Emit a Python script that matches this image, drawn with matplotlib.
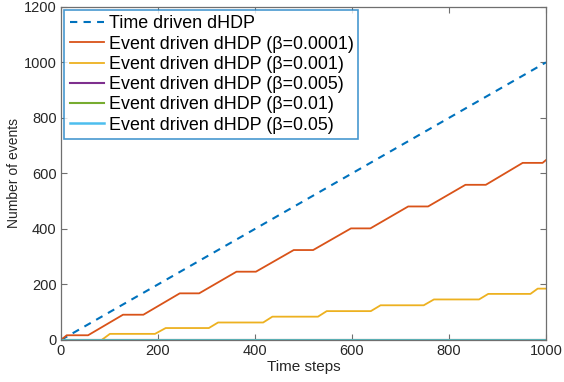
import matplotlib
matplotlib.use("Agg")
import matplotlib.pyplot as plt

plt.rcParams['font.family'] = ['Liberation Sans', 'DejaVu Sans']

# Data
time_x = [0, 1000]
time_y = [0, 1000]

b0001_x = [0, 12, 56, 128, 170, 245, 285, 362, 402, 480, 520, 598, 638, 716, 757, 834, 876, 952, 993, 1000]
b0001_y = [0, 17, 17, 91, 91, 168, 168, 246, 246, 324, 324, 402, 402, 481, 481, 559, 559, 638, 638, 648]

b001_x = [0, 84, 101, 194, 216, 305, 324, 417, 436, 530, 548, 639, 659, 748, 769, 862, 881, 968, 983, 1000]
b001_y = [0, 0, 22, 22, 43, 43, 63, 63, 84, 84, 104, 104, 125, 125, 146, 146, 166, 166, 185, 185]

flat_x = [0, 1000]
b005_y = [0, 0]
b01_y = [0, 0]
b05_y = [0, 0]

labels = ['Time driven dHDP',
          'Event driven dHDP (β=0.0001)',
          'Event driven dHDP (β=0.001)',
          'Event driven dHDP (β=0.005)',
          'Event driven dHDP (β=0.01)',
          'Event driven dHDP (β=0.05)']
colors = ['#0072BD', '#D95319', '#EDB120', '#7E2F8E', '#77AC30', '#4DBEEE']

xticks = [0, 200, 400, 600, 800, 1000]
yticks = [0, 200, 400, 600, 800, 1000, 1200]

fig = plt.figure(figsize=(5.64, 3.82), dpi=100)
ax = fig.add_axes([0.108, 0.110, 0.860, 0.872])

ax.plot(time_x, time_y, linestyle=(0, (3.5, 3)), color=colors[0], lw=1.5, label=labels[0])
ax.plot(b0001_x, b0001_y, color=colors[1], lw=1.3, label=labels[1])
ax.plot(b001_x, b001_y, color=colors[2], lw=1.3, label=labels[2])
ax.plot(flat_x, b005_y, color=colors[3], lw=1.5, label=labels[3])
ax.plot(flat_x, b01_y, color=colors[4], lw=1.5, label=labels[4])
ax.plot(flat_x, b05_y, color=colors[5], lw=1.8, label=labels[5])

ax.set_xlim(0, 1000)
ax.set_ylim(0, 1200)
ax.set_xticks(xticks)
ax.set_yticks(yticks)
axc = '#262626'
for s in ax.spines.values():
    s.set_color('#6f6f6f')
    s.set_linewidth(0.9)
ax.tick_params(direction='in', length=4, width=0.8, color='#6f6f6f', labelsize=10.5,
               labelcolor=axc, top=True, right=True, pad=3)
ax.set_xlabel('Time steps', fontsize=11, color=axc, labelpad=1)
ax.set_ylabel('Number of events', fontsize=10, color=axc, labelpad=2)

leg = ax.legend(loc='upper left', fontsize=12.9, frameon=True, fancybox=False,
                borderaxespad=0.2, handlelength=1.9, handletextpad=0.28,
                labelspacing=0.18, borderpad=0.28)
leg.get_frame().set_edgecolor('#1a7fc4')
leg.get_frame().set_linewidth(1.2)
for t in leg.get_texts():
    t.set_color('#000000')

fig.savefig('out.png', dpi=100)
